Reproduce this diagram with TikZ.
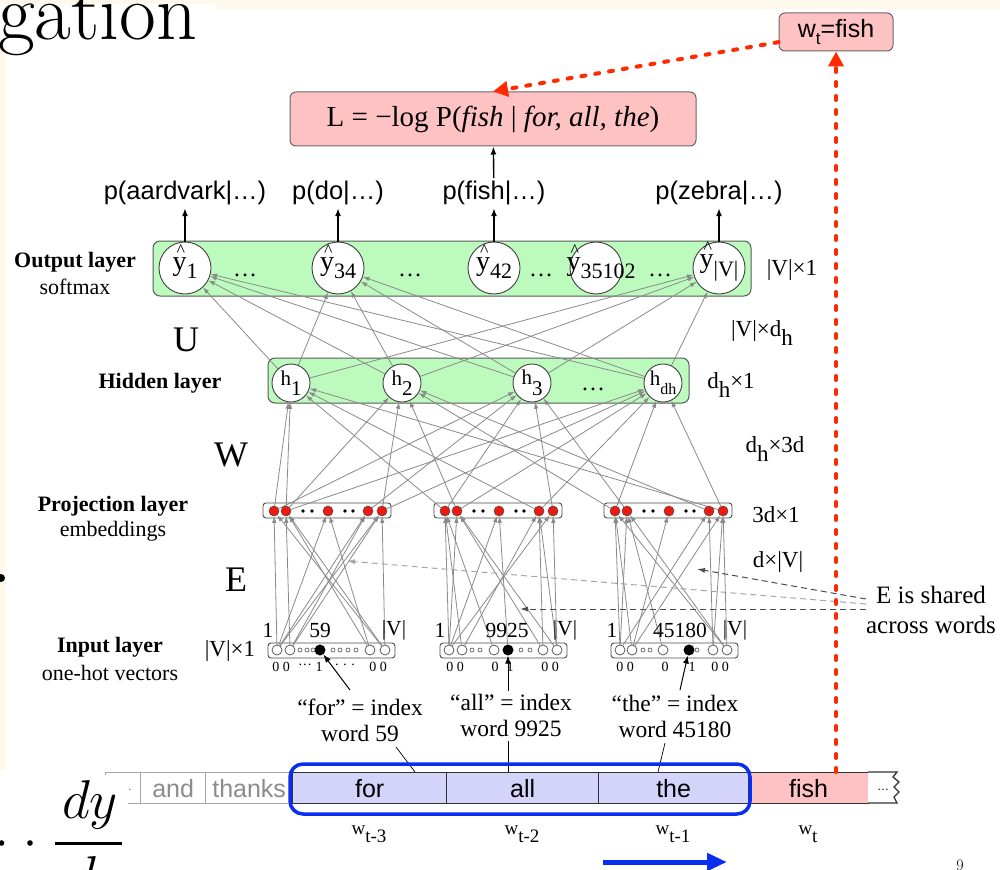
\documentclass[tikz,border=0pt]{standalone}
\usepackage{fontspec}
\usetikzlibrary{arrows.meta}
\newfontfamily\arialf{Liberation Sans}
\newfontfamily\timesf{Liberation Serif}
\newcommand\fsz[1]{\fontsize{#1}{#1}\selectfont}
\newcommand\lowsub[2][0.35em]{\raisebox{-#1}{#2}}
% output unit: hatted y with a subscript, centred on a zero-width box
\newcommand\outy[2][0pt]{\makebox[0pt]{\kern#1\smash{\makebox[0pt][l]{\kern4pt\raisebox{0.5em}{\fsz{18}\textasciicircum}}}y\lowsub[0.3em]{\fsz{22}#2}}}

\definecolor{cream}{HTML}{FFF9EC}
\definecolor{lgreen}{HTML}{BDFABD}
\definecolor{lpink}{HTML}{FFC2C2}
\definecolor{lblue}{HTML}{D4D4FA}
\definecolor{rdash}{HTML}{FF2A00}
\definecolor{wblue}{HTML}{0A2EF0}
\definecolor{meshgray}{HTML}{8A8A8A}
\definecolor{dotred}{HTML}{EE1A10}

\pgfdeclarelayer{back}
\pgfdeclarelayer{wires}
\pgfsetlayers{back,wires,main}

\tikzset{
  garrow/.style={draw=meshgray, line width=0.8, -{Latex[length=6.5pt,width=4.5pt]}},
  barrow/.style={draw=black, line width=1.4, -{Latex[length=8pt,width=6pt]}},
  reddash/.style={draw=rdash, line width=4, dash pattern=on 4pt off 10pt, line cap=round,
                  -{Triangle[length=15pt,width=15pt]}},
  sarrow/.style={draw=black!70, line width=1, dash pattern=on 6pt off 4pt,
                 -{Latex[length=8pt,width=5pt]}},
  pinkbox/.style={draw=black!60, fill=lpink, rounded corners=6, line width=1},
  greenbox/.style={draw=black!65, fill=lgreen, rounded corners=7, line width=1},
  smallbox/.style={draw=black!70, fill=white, rounded corners=3, line width=0.9},
  ocirc/.style={circle, draw=black!75, fill=white, minimum size=52, inner sep=0,
                line width=0.9, font=\timesf\fsz{28}},
  hcirc/.style={circle, draw=black!75, fill=white, minimum size=38, inner sep=0,
                line width=0.9, font=\timesf\fsz{21}},
  pdot/.style={circle, draw=black!70, fill=dotred, minimum size=10, inner sep=0, line width=0.6},
  icirc/.style={circle, draw=black!70, fill=white, minimum size=10, inner sep=0, line width=0.7},
  kdot/.style={circle, fill=black, minimum size=11, inner sep=0},
  pl/.style={font=\arialf\fsz{25.5}, inner sep=3},
  lay/.style={font=\timesf\bfseries\fsz{22}, inner sep=0},
  sub/.style={font=\timesf\fsz{22}, inner sep=0},
  dimlab/.style={font=\timesf\fsz{23}, inner sep=0},
  mat/.style={font=\timesf\fsz{36}, inner sep=0},
  num/.style={font=\timesf\fsz{21.5}, inner sep=0},
  bit/.style={font=\timesf\fsz{14}, inner sep=0},
  idx/.style={font=\timesf\fontsize{23.5}{26}\selectfont, align=center, inner sep=0},
  cell/.style={draw=black!80, line width=1.3, minimum height=31, inner sep=0,
               anchor=north west, font=\arialf\fsz{25}},
  cellg/.style={cell, draw=black!35, text=black!45},
  wl/.style={font=\timesf\fsz{19}, inner sep=0},
}

\begin{document}
\begin{tikzpicture}[x=1pt,y=-1pt]
\useasboundingbox (0,0) rectangle (1000,869);

% ---------- page background and containers ----------
\begin{pgfonlayer}{back}
  \fill[cream] (0,0) rectangle (1000,869);
  \fill[white] (6,9) rectangle (1000,869);
  \fill[white] (0,4) rectangle (215,45);
  \fill[white] (0,770) rectangle (6,869);
  \draw[greenbox] (153,241) rectangle (751,296);
  \draw[greenbox] (268,358) rectangle (689,403);
  \foreach \x in {263,434,604} \draw[smallbox] (\x,503) rectangle ++(128,15);
  \foreach \x in {268,440,611} \draw[smallbox] (\x,643) rectangle ++(127,15);
\end{pgfonlayer}

% slide title fragment and stray glyph
\node[anchor=base west, inner sep=0, font=\fsz{80}] (ttl) at (-2,40) {gation};
\fill (1,578) circle (4);

% ---------- loss and target ----------
\node[pinkbox, minimum width=406, minimum height=54] (loss) at (493,119)
  {\timesf\fsz{29}L = −log P(\textit{fish} | \textit{for, all, the})};
\node[pinkbox, minimum width=114, minimum height=38] (wt) at (836,32)
  {\arialf\fsz{25}w\lowsub[0.3em]{\fsz{17}t}=fish};

% ---------- output layer ----------
\node[ocirc] (y1)  at (185,268) {\outy{1}};
\node[ocirc] (y34) at (338,268) {\outy{34}};
\node[ocirc] (y42) at (494,268) {\outy{42}};
\node[ocirc] (y35) at (596,268) {\outy[10pt]{35102}};
\node[ocirc] (yV)  at (719,268) {\outy{|V|}};
\foreach \x [count=\n] in {245,410,541,660}
  \node[font=\timesf\fsz{24}, inner sep=0, anchor=base] (od\n) at (\x,276) {…};

\node[pl] (p1) at (185,193) {p(aardvark|…)};
\node[pl] (p2) at (338,193) {p(do|…)};
\node[pl] (p3) at (494,193) {p(fish|…)};
\node[pl] (p4) at (719,193) {p(zebra|…)};
\draw[barrow] (y1) -- (p1);
\draw[barrow] (y34) -- (p2);
\draw[barrow] (y42) -- (p3);
\draw[barrow] (yV) -- (p4);
\draw[barrow] (p3) -- (loss);

% ---------- hidden layer ----------
\node[hcirc] (h1) at (291,383) {h\lowsub[0.5em]{1}};
\node[hcirc] (h2) at (402,383) {h\lowsub[0.5em]{2}};
\node[hcirc] (h3) at (532,383) {h\lowsub[0.5em]{3}};
\node[hcirc] (hd) at (663,383) {h\lowsub[0.45em]{\fsz{16}dh}};
\node[font=\timesf\fsz{24}, inner sep=0, anchor=base] (hdots) at (593,390) {…};

% ---------- projection layer ----------
\foreach \b/\x in {1/263,2/434,3/604}{
  \foreach \i/\o in {1/11,2/23,3/65,4/105,5/119}
    \node[pdot] (p\b\i) at (\x+\o,511) {};
  \foreach \o in {40,49,82,90}
    \fill (\x+\o,511) circle (1.8);
}

% ---------- input layer (one-hot vectors) ----------
% word 59
\node[icirc] (i1a) at (277,650) {};
\node[icirc] (i1b) at (290,650) {};
\node[kdot]  (k1)  at (320,650) {};
\node[icirc] (i1y) at (370,650) {};
\node[icirc] (i1z) at (385,650) {};
\foreach \x in {300,307,313,333,340,348,356} \draw[black!70, fill=white, line width=0.6] (\x,650) circle (2);
% word 9925
\node[icirc] (i2a) at (449,650) {};
\node[icirc] (i2b) at (462,650) {};
\node[icirc] (i2m) at (494,650) {};
\node[kdot]  (k2)  at (508,650) {};
\node[icirc] (i2y) at (543,650) {};
\node[icirc] (i2z) at (557,650) {};
\foreach \x in {472,480,521,530} \draw[black!70, fill=white, line width=0.6] (\x,650) circle (2);
% word 45180
\node[icirc] (i3a) at (620,650) {};
\node[icirc] (i3b) at (632,650) {};
\node[icirc] (i3m) at (663,650) {};
\node[kdot]  (k3)  at (689,650) {};
\node[icirc] (i3y) at (713,650) {};
\node[icirc] (i3z) at (727,650) {};
\foreach \x in {643,650,697} \draw[black!70, fill=white, line width=0.6] (\x,650) circle (2);

% index numbers above the vectors
\node[num] (n1a) at (268,630) {1};
\node[num] (n1b) at (320,630) {59};
\node[num] (n1c) at (394,630) {|V|};
\node[num] (n2a) at (440,630) {1};
\node[num] (n2b) at (507,630) {9925};
\node[num] (n2c) at (565,630) {|V|};
\node[num] (n3a) at (612,630) {1};
\node[num] (n3b) at (680,630) {45180};
\node[num] (n3c) at (735,630) {|V|};
% bit values below the vectors
\node[bit] (b1a) at (281,667) {0 0};
\node[bit] (b1b) at (305,667) {···};
\node[bit] (b1c) at (319,667) {1};
\node[bit] (b1d) at (345,667) {· · ·};
\node[bit] (b1e) at (378,667) {0 0};
\node[bit] (b2a) at (455,667) {0 0};
\node[bit] (b2b) at (495,667) {0};
\node[bit] (b2c) at (510,667) {1};
\node[bit] (b2d) at (550,667) {0 0};
\node[bit] (b3a) at (625,667) {0 0};
\node[bit] (b3b) at (665,667) {0};
\node[bit] (b3c) at (692,667) {1};
\node[bit] (b3d) at (720,667) {0 0};

% ---------- weight connections ----------
\begin{pgfonlayer}{wires}
  \foreach \h in {h1,h2,h3,hd}
    \foreach \y in {y1,y34,yV}
      \draw[garrow] (\h) -- (\y);
  \foreach \s/\t in {p11/h1,p12/h1,p24/h1,p35/h1,p21/h1,
                     p12/h2,p15/h2,p22/h2,p31/h2,p34/h2,
                     p11/h3,p21/h3,p25/h3,p32/h3,p14/h3,
                     p15/hd,p22/hd,p24/hd,p35/hd,p31/hd,p12/hd}
    \draw[garrow] (\s) -- (\t);
  \foreach \s/\t in {i1a/p11,i1a/p13,i1a/p14,i1a/p15,i1b/p12,i1b/p14,i1b/p15,
                     i1y/p12,i1y/p13,i1z/p11,i1z/p12,i1z/p15,
                     i2a/p21,i2a/p22,i2a/p23,i2a/p25,i2b/p21,i2b/p24,k2/p23,i2m/p21,
                     i2y/p22,i2y/p24,i2z/p25,i2z/p24,i2z/p22,
                     i3a/p31,i3a/p32,i3a/p34,i3b/p31,i3b/p33,i3b/p35,i3m/p32,
                     i3y/p34,i3y/p35,i3z/p35,i3z/p31,i3z/p32}
    \draw[garrow] (\s) -- (\t);
  % shared embedding note
  \coordinate (s1) at (866,599);
  \coordinate (s2) at (866,604);
  \coordinate (s3) at (866,609);
  \coordinate (e1) at (697,569);
  \coordinate (e2) at (347,561);
  \coordinate (e3) at (520,609);
  \draw[sarrow] (s1) -- (e1);
  \draw[sarrow, draw=black!35] (s2) -- (e2);
  \draw[sarrow] (s3) -- (e3);
\end{pgfonlayer}

% ---------- layer captions and matrix sizes ----------
\node[lay] (lo) at (75,262) {Output layer};
\node[sub] (lo2) at (75,287) {softmax};
\node[lay] (lh) at (160,383) {Hidden layer};
\node[lay] (lp) at (113,506) {Projection layer};
\node[sub] (lp2) at (113,531) {embeddings};
\node[lay] (li) at (110,647) {Input layer};
\node[sub] (li2) at (110,673) {one-hot vectors};
\node[dimlab] (vi) at (230,651) {|V|×1};
\node[mat] (mU) at (186,340) {U};
\node[mat] (mW) at (231,455) {W};
\node[mat] (mE) at (236,580) {E};

\node[dimlab] (d1) at (792,270) {|V|×1};
\node[dimlab] (d2) at (762,333) {|V|×d\lowsub{h}};
\node[dimlab] (d3) at (731,385) {d\lowsub{h}×1};
\node[dimlab] (d4) at (775,449) {d\lowsub{h}×3d};
\node[dimlab] (d5) at (776,515) {3d×1};
\node[dimlab] (d6) at (778,562) {d×|V|};

\node[font=\timesf\fontsize{25}{30}\selectfont, align=center, inner sep=0] (esh) at (931,610)
  {E is shared\\across words};

% ---------- word indices ----------
\node[idx] (ix1) at (360,720) {“for” = index\\word 59};
\node[idx] (ix2) at (511,715) {“all” = index\\word 9925};
\node[idx] (ix3) at (675,716) {“the” = index\\word 45180};
\coordinate (t1) at (350,690);
\coordinate (t2) at (508,691);
\coordinate (t3) at (680,690);
\draw[barrow, line width=1] (t1) -- (k1);
\draw[barrow, line width=1] (t2) -- (k2);
\draw[barrow, line width=1] (t3) -- (k3);

% ---------- running text ----------
\node[cellg, minimum width=35] (c0) at (105,772) {};
\node[font=\arialf\fsz{12}, text=black!60, inner sep=0] (c0t) at (126,790) {…};
\node[cellg, minimum width=65] (c1) at (140,772) {and};
\node[cellg, minimum width=87] (c2) at (205,772) {thanks};
\node[cell, fill=lblue, minimum width=154] (cf) at (292,772) {for};
\node[cell, fill=lblue, minimum width=152] (ca) at (446,772) {all};
\node[cell, fill=lblue, minimum width=150] (ct) at (598,772) {the};
\node[cell, fill=lpink, minimum width=120] (cfi) at (748,772) {fish};
\filldraw[fill=white, draw=black!80, line width=1.3]
  (868,772) -- (897,772) -- (893,777) -- (899,782) -- (894,787) -- (899,792)
  -- (894,797) -- (897,803) -- (868,803);
\node[font=\arialf\fsz{12}, inner sep=0] (cet) at (883,790) {…};

\coordinate (q1a) at (396,747); \coordinate (q1b) at (415,772);
\coordinate (q2a) at (508,741); \coordinate (q2b) at (508,772);
\coordinate (q3a) at (665,743); \coordinate (q3b) at (658,772);
\draw[line width=0.7] (q1a) -- (q1b);
\draw[line width=0.7] (q2a) -- (q2b);
\draw[line width=0.7] (q3a) -- (q3b);

\draw[wblue, line width=3.5, rounded corners=13] (290,764) rectangle (750,814);

\node[wl] (w3) at (369,834) {w\lowsub[0.4em]{t-3}};
\node[wl] (w2) at (522,834) {w\lowsub[0.4em]{t-2}};
\node[wl] (w1) at (673,834) {w\lowsub[0.4em]{t-1}};
\node[wl] (w0) at (808,834) {w\lowsub[0.4em]{t}};

% ---------- target feedback ----------
\draw[reddash] (wt.190) -- (loss.north);
\draw[reddash] (wt.south |- cfi.north) -- (wt.south);

\coordinate (ba) at (603,862);
\coordinate (bb) at (727,862);
\draw[wblue, line width=5, -{Triangle[length=20pt,width=17pt]}] (ba) -- (bb);

% ---------- slide formula fragment and page number ----------
\fill[white] (0,775) rectangle (128,869);
\fill (1.5,843) circle (2.8);
\fill (30,843) circle (2.8);
\node[anchor=base, inner sep=0] (fnum) at (90,818) {\scalebox{2.2}{\fsz{25}$dy$}};
\fill (55,841.5) rectangle (122,844.5);
\node[anchor=base, inner sep=0] (fden) at (82,894) {\scalebox{2.2}{\fsz{25}$d$}};
\node[anchor=north, inner sep=0, font=\fsz{16}] (pg) at (960,860) {9};
\end{tikzpicture}
\end{document}
